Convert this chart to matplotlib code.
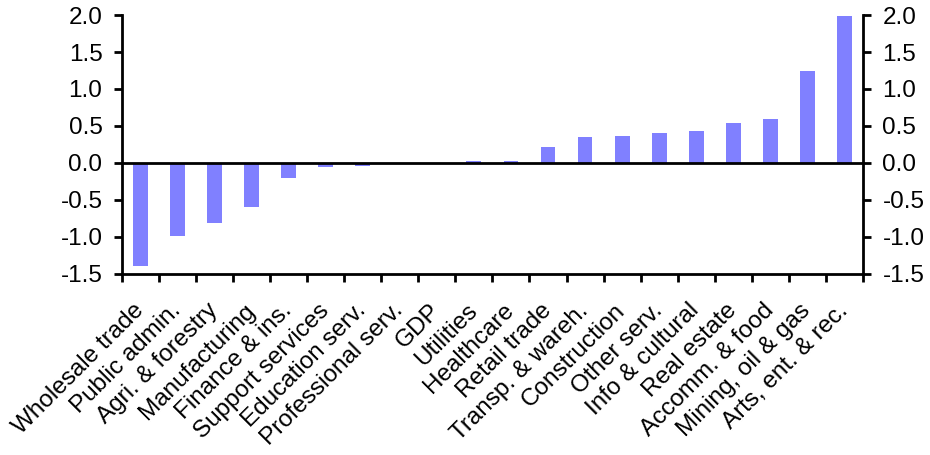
import numpy as np
import matplotlib
matplotlib.use("Agg")
import matplotlib.pyplot as plt
from matplotlib.transforms import ScaledTranslation

plt.rcParams['font.family'] = ['Liberation Sans', 'DejaVu Sans']

# Datos
sectores = ['Wholesale trade', 'Public admin.', 'Agri. & forestry', 'Manufacturing',
            'Finance & ins.', 'Support services', 'Education serv.', 'Professional serv.',
            'GDP', 'Utilities', 'Healthcare', 'Retail trade', 'Transp. & wareh.',
            'Construction', 'Other serv.', 'Info & cultural', 'Real estate',
            'Accomm. & food', 'Mining, oil & gas', 'Arts, ent. & rec.']
valores = [-1.39, -0.99, -0.81, -0.59, -0.20, -0.05, -0.04, 0.0, 0.0, 0.02,
           0.02, 0.22, 0.35, 0.37, 0.41, 0.43, 0.54, 0.59, 1.24, 1.98]
yticks = [-1.5, -1.0, -0.5, 0.0, 0.5, 1.0, 1.5, 2.0]

color_barra = '#8080FF'

fig = plt.figure(figsize=(9.3, 4.55), dpi=100)
ax = fig.add_axes([0.131, 0.398, 0.797, 0.569])

x = np.arange(len(sectores))
ax.bar(x, valores, width=0.4, color=color_barra, zorder=2)
ax.axhline(0, color='black', lw=2, zorder=3)

ax.set_xlim(-0.5, len(sectores) - 0.5)
ax.set_ylim(-1.5, 2.0)
ax.set_yticks(yticks)
ax.set_yticklabels([f'{v:.1f}' for v in yticks])

# Ticks del eje x entre categorías
ax.set_xticks(np.arange(len(sectores) + 1) - 0.5)
ax.set_xticklabels([])
ax.set_xticks(x, minor=True)
ax.set_xticklabels(sectores, minor=True, rotation=45, ha='right',
                   rotation_mode='anchor', fontsize=17.5)
ax.tick_params(axis='x', which='minor', length=0, pad=9)
ax.tick_params(axis='x', which='major', direction='out', length=6, width=2)

# Desplazo un poco las etiquetas (como en el original)
desplaz = ScaledTranslation(-0.08, -0.13, fig.dpi_scale_trans)
for lab in ax.get_xticklabels(minor=True):
    lab.set_transform(lab.get_transform() + desplaz)

ax.tick_params(axis='y', direction='out', length=6, width=2, labelsize=17.5,
               left=True, right=True, labelleft=True, labelright=True, pad=8)

ax.spines['top'].set_visible(False)
for s in ['left', 'right', 'bottom']:
    ax.spines[s].set_linewidth(2)

fig.savefig('out.png', dpi=100)
